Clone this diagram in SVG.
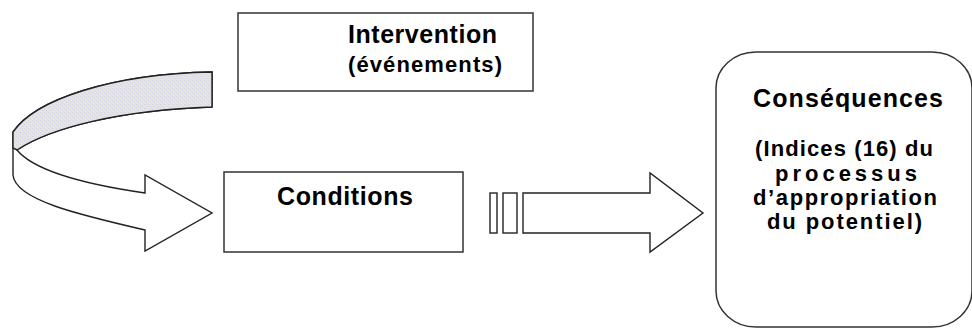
<svg xmlns="http://www.w3.org/2000/svg" width="972" height="328" viewBox="0 0 972 328">
<defs>
<style>
.box{fill:#fff;stroke:#333;stroke-width:1.5}
.shape{fill:#fff;stroke:#222;stroke-width:1.4;stroke-linejoin:miter}
.band{fill:url(#dither);stroke:#222;stroke-width:1.4}
.t{font-family:"Liberation Sans","Arial",sans-serif;font-weight:bold;fill:#000}
.h{font-size:25px}
.s{font-size:22px}
</style>
<pattern id="dither" width="4" height="4" patternUnits="userSpaceOnUse">
<rect width="4" height="4" fill="#e6e4d2"/>
<rect x="0" y="0" width="1" height="1" fill="#d2d3f0"/>
<rect x="2" y="2" width="1" height="1" fill="#d2d3f0"/>
<rect x="1" y="3" width="1" height="1" fill="#eeebc0"/>
<rect x="3" y="1" width="1" height="1" fill="#eeebc0"/>
</pattern>
</defs>
<rect width="972" height="328" fill="#fff"/>
<g id="connectors">
<g id="curved-arrow">
<path class="shape" d="M212,72 C110,74 35,100 13,132 L13,175 C15,200 80,215 145,230 L145,251 L212,213 L145,175 L145,193 C90,185 35,172 17,150 C50,128 120,110 212,107 Z"/>
<path class="band" d="M212,72 C110,74 35,100 13,132 L13,148 L17,150 C50,128 120,110 212,107 Z"/>
</g>
<g id="straight-arrow">
<rect class="shape" x="490" y="193" width="7" height="40"/>
<rect class="shape" x="503" y="193" width="14" height="40"/>
<path class="shape" d="M523,193 L650,193 L650,173 L703,213 L650,252 L650,233 L523,233 Z"/>
</g>
</g>
<g id="intervention">
<rect class="box" x="238" y="13" width="295" height="78"/>
<text class="t h" x="348" y="43" textLength="149" lengthAdjust="spacing">Intervention</text>
<text class="t s" x="348" y="72" textLength="154" lengthAdjust="spacing">(événements)</text>
</g>
<g id="conditions">
<rect class="box" x="224" y="172" width="239" height="80"/>
<text class="t h" x="277" y="205" textLength="136" lengthAdjust="spacing">Conditions</text>
</g>
<g id="consequences">
<rect class="box" x="716" y="52" width="256" height="275" rx="40" ry="36"/>
<text class="t h" x="753" y="107" textLength="190" lengthAdjust="spacing">Conséquences</text>
<text class="t s" x="755" y="156" textLength="178" lengthAdjust="spacing">(Indices (16) du</text>
<text class="t s" x="775" y="181" textLength="142" lengthAdjust="spacing">processus</text>
<text class="t s" x="753" y="205" textLength="184" lengthAdjust="spacing">d’appropriation</text>
<text class="t s" x="767" y="229" textLength="155" lengthAdjust="spacing">du potentiel)</text>
</g>
</svg>
